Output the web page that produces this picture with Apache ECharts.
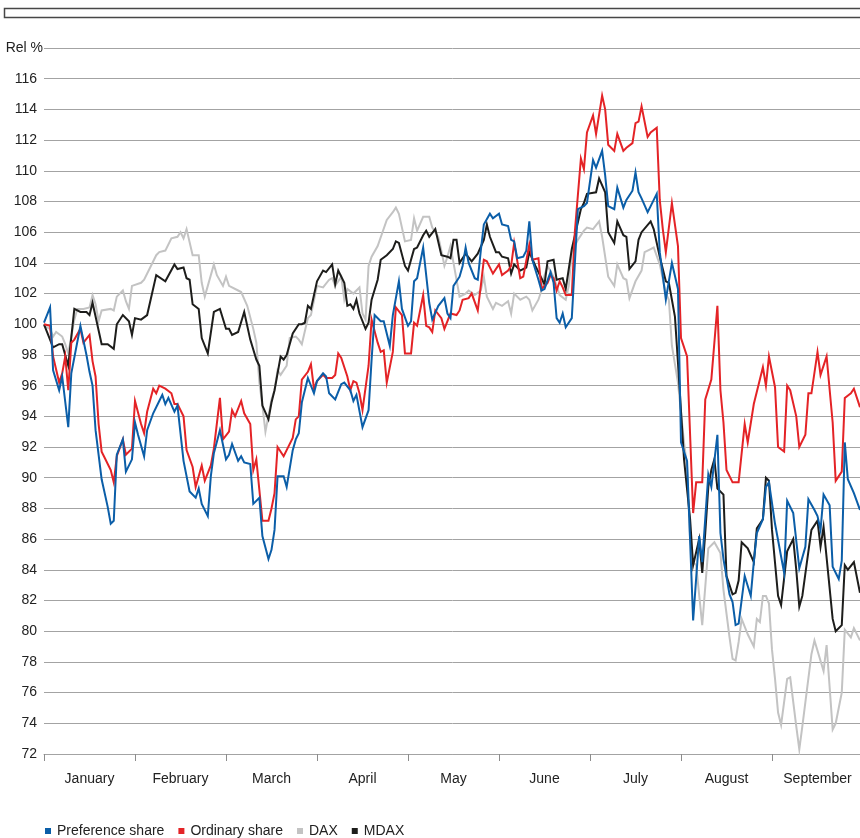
<!DOCTYPE html>
<html>
<head>
<meta charset="utf-8">
<script src="https://cdn.jsdelivr.net/npm/echarts@6/dist/echarts.min.js"></script>
<style>
html,body{margin:0;padding:0;background:#fff;}
#chart{width:860px;height:838px;}
</style>
</head>
<body>
<div id="chart"></div>
<script>
// x = day position (30 units per month), y = relative performance in %
const months = ['January','February','March','April','May','June','July','August','September'];
const yAxisTitle = 'Rel %';
const seriesNames = ['Preference share','Ordinary share','DAX','MDAX'];

const preference = [[0,100.1],[2,101.1],[3,97],[5,95.7],[6,96.6],[8,93.3],[9,96.8],[12,99.9],[14,98],[15,96.9],[16,96],[17,93.1],[19,89.9],[21,88.1],[22,87],[23,87.2],[24,91.5],[26,92.5],[27,90.4],[29,91.2],[30,93.6],[31,92.8],[33,91.4],[34,93.1],[36,94.2],[38,95],[39,95.4],[40,94.8],[41,95.2],[43,94.3],[44,94.7],[46,91.1],[48,89.1],[50,88.7],[51,89.3],[52,88.3],[54,87.5],[55,90.1],[56,91.6],[58,93.1],[60,91.2],[61,91.5],[62,92.2],[64,91.1],[65,91.4],[66,91],[68,90.9],[69,88.3],[71,88.7],[72,86.2],[74,84.7],[75,85.3],[76,86.6],[77,90.1],[79,90.1],[80,89.4],[82,91.8],[83,92.5],[84,92.9],[85,94.9],[87,96.5],[89,95.5],[90,96.3],[92,96.8],[93,96.6],[94,95.5],[96,95.1],[98,96.1],[99,96.2],[101,95.7],[102,95],[103,95.4],[105,93.3],[107,94.4],[108,97.7],[109,100.6],[111,100.2],[112,100.2],[114,98.6],[115,100.6],[117,102.8],[118,101],[120,99.9],[121,100.2],[122,102.8],[123,103],[125,105],[127,101.4],[128,100.3],[130,101.2],[132,101.7],[133,100.7],[134,100.4],[135,102.5],[137,103.1],[138,103.8],[139,105],[140,104],[142,103],[143,102.9],[144,104.8],[145,106.5],[147,107.2],[148,106.9],[150,107.2],[151,106.5],[153,106.4],[154,105.5],[155,105.4],[156,104.3],[158,104.4],[159,104.8],[160,106.7],[161,104.2],[163,102.9],[164,102.2],[165,102.3],[167,103.4],[168,102.7],[169,100.4],[170,100.1],[171,100.7],[172,99.8],[174,100.4],[176,107.5],[178,107.7],[179,107.9],[181,110.7],[182,110.2],[184,111.3],[185,109.7],[186,107.7],[188,107.5],[189,108.9],[191,107.6],[192,108.1],[194,108.7],[195,109.9],[196,108.6],[197,108.2],[199,107.3],[200,107.7],[202,108.5],[203,104.7],[205,101.6],[207,104],[209,102.3],[210,92.3],[212,91.1],[214,80.7],[216,86.2],[217,84.5],[219,90.2],[220,89.4],[222,92.8],[223,86.4],[224,84.7],[226,82.4],[227,81.9],[228,80.4],[229,80.5],[231,83.6],[233,82.3],[234,84.5],[235,86.4],[237,87.3],[238,89.4],[239,89.7],[241,87],[244,83.8],[245,88.5],[247,87.7],[249,84.1],[251,85.5],[252,88.6],[254,87.9],[255,87.5],[256,86.6],[257,88.9],[259,88.2],[260,84.2],[262,83.4],[263,84.6],[264,92.3],[265,89.9],[267,89],[269,87.9]];

const ordinary = [[0,100],[2,99.9],[3,97.9],[5,96.2],[6,96.8],[7,97.9],[8,95.7],[9,98.8],[10,99],[12,99.7],[13,98.8],[15,99.3],[16,97.6],[17,96.6],[18,93.5],[19,91.7],[20,91.3],[22,90.5],[23,89.7],[24,91.4],[26,92.5],[27,91.5],[29,91.9],[30,95],[32,93.5],[33,92.9],[34,94.3],[36,95.8],[37,95.5],[38,96],[40,95.8],[42,95.5],[43,94.8],[44,94.8],[46,94],[47,91.8],[49,90.7],[50,89.4],[52,90.8],[53,89.8],[55,90.8],[56,91.9],[58,95.2],[59,92.5],[61,93],[62,94.4],[63,94],[65,95],[66,94.2],[68,93.5],[69,90.5],[70,91.2],[72,87.2],[74,87.2],[75,88],[76,89],[77,92],[79,91.4],[80,91.8],[82,92.6],[83,93.8],[84,94],[85,96.4],[87,96.9],[88,97.4],[89,95.8],[90,96.3],[92,96.7],[93,96.5],[95,96.5],[96,96.7],[97,98.1],[98,97.8],[100,96.6],[101,95.7],[102,96.3],[103,96.2],[104,95.5],[105,94.4],[107,97.3],[108,100.3],[110,98.8],[111,98.2],[112,98.3],[113,96.2],[115,98.2],[116,101.1],[118,100.6],[119,98.1],[121,98.1],[122,100.1],[123,99.9],[125,101.9],[126,99.9],[127,99.8],[128,99.5],[129,100.9],[131,100.4],[132,99.7],[134,100.7],[136,100.6],[137,100.9],[138,101.6],[140,101.7],[141,102],[143,100.9],[144,102.5],[145,104.2],[146,104.1],[148,103.3],[150,103.9],[151,103.2],[153,103.5],[154,103.8],[155,105.3],[157,103],[158,103.1],[160,105.2],[161,104.2],[163,104.3],[164,102.3],[166,102.7],[167,103.2],[168,103],[169,102.2],[170,102.8],[171,102.4],[172,101.9],[174,101.9],[175,106],[177,110.8],[178,110.1],[179,112.5],[181,113.6],[182,112.4],[184,114.9],[185,114],[186,111.7],[188,111.3],[189,112.4],[191,111.3],[192,111.5],[194,111.8],[195,113.1],[196,113.2],[197,114.2],[199,112.2],[200,112.5],[202,112.8],[203,108.1],[204,106.2],[205,104.7],[207,107.9],[209,105.1],[210,99.1],[212,97.9],[214,87.7],[215,89.7],[217,89.7],[218,95.1],[220,96.4],[222,101.2],[223,95.7],[224,93.6],[225,90.5],[227,89.7],[229,89.7],[231,93.5],[232,92.3],[234,94.8],[237,97.2],[238,96],[239,97.9],[241,95.9],[242,92],[244,91.7],[245,96],[246,95.7],[248,94],[249,92],[251,92.8],[252,95.5],[253,95.5],[255,98.2],[256,96.7],[258,97.9],[260,93.6],[261,89.8],[263,90.4],[264,95.2],[266,95.5],[267,95.8],[269,94.6]];

const dax = [[0,99.9],[2,99.7],[3,99.2],[4,99.5],[6,99.2],[7,98.7],[8,98.1],[10,100.3],[11,101],[13,101],[15,101.1],[16,101.9],[17,101.3],[18,100.2],[19,100.9],[22,101],[23,100.9],[24,101.8],[26,102.2],[27,101.5],[28,101],[29,102.5],[32,102.7],[33,102.9],[35,103.7],[37,104.5],[38,104.7],[40,104.8],[42,105.6],[44,105.7],[45,106],[46,105.6],[47,106.2],[49,104.5],[51,104.5],[52,102.7],[53,101.8],[54,102.5],[56,103.9],[57,103.2],[59,102.5],[60,103.1],[61,102.5],[64,102.2],[65,102.1],[67,101.2],[69,99.7],[70,98.8],[71,96.2],[72,94.7],[73,93],[75,95.1],[76,95.7],[77,97],[78,96.7],[80,97.3],[81,99.1],[83,99.2],[84,99],[85,98.7],[87,100.4],[88,100.6],[90,102.5],[92,102.4],[94,102.9],[95,103],[96,102.5],[98,103.1],[99,101.6],[100,102.3],[102,102],[104,102.4],[105,100.7],[106,100.3],[107,103.8],[108,104.4],[110,105.1],[113,106.8],[115,107.3],[116,107.6],[117,107.2],[119,105.4],[121,105.5],[122,106.9],[123,106.1],[125,107],[127,107],[128,106.3],[130,105.7],[131,104.8],[132,103.8],[133,104.4],[134,105.1],[135,104],[136,102.9],[137,101.8],[139,102],[140,102.2],[142,101.9],[144,102.2],[145,103.1],[146,101.8],[148,101],[149,101.4],[151,101.2],[153,101.5],[154,100.7],[155,102],[157,101.6],[159,101.8],[160,101.6],[161,100.9],[163,101.6],[164,102.2],[165,103.2],[166,103.8],[168,103.1],[169,102.5],[170,101.9],[172,101.6],[173,102.5],[174,104.7],[176,105.5],[178,106.1],[179,106.3],[181,106.2],[183,106.7],[184,105.7],[186,103.1],[188,102.5],[189,103.9],[191,103],[192,102.9],[193,101.7],[195,102.8],[197,103.5],[198,104.7],[200,104.9],[201,105],[203,103.9],[205,102],[206,101.6],[207,98.6],[209,96.2],[211,92.3],[212,90.7],[213,86],[214,84.5],[215,84.3],[217,80.4],[219,85.4],[221,85.8],[223,85.1],[224,82.7],[226,79.6],[227,78.2],[228,78.1],[229,79.3],[230,80.8],[232,79.8],[234,79],[235,80.8],[236,80.6],[237,82.3],[238,82.3],[239,81.8],[240,78.8],[241,76.9],[242,74.7],[243,73.9],[245,76.9],[246,77],[248,73.8],[249,72.3],[250,73.8],[253,78.5],[254,79.4],[257,77.4],[258,79.1],[260,73.6],[261,74],[263,76],[264,80.1],[266,79.6],[267,80.2],[269,79.4]];

const mdax = [[0,100],[3,98.5],[5,98.7],[6,98.7],[8,97.3],[10,101],[12,100.8],[14,100.8],[15,100.6],[16,101.4],[17,100.5],[19,98.7],[21,98.7],[23,98.4],[24,100],[26,100.6],[28,100.2],[29,99.3],[30,100.4],[32,100.3],[34,100.6],[37,103.2],[40,102.8],[43,103.9],[44,103.6],[46,103.7],[47,103],[48,102.9],[49,101.3],[51,101],[52,99.1],[54,98.1],[56,100.8],[58,101],[60,99.7],[61,99.7],[62,99.3],[64,99.5],[66,100.8],[68,99],[70,97.7],[71,97.3],[72,94.7],[74,93.8],[75,94.9],[76,95.7],[78,97.9],[79,97.7],[80,98],[82,99.4],[84,100],[85,100],[86,100.1],[87,101.2],[88,101],[90,102.8],[92,103.5],[93,103.4],[95,103.9],[96,102.6],[97,103.5],[99,102.7],[100,101.2],[101,101.3],[102,101],[103,101.6],[104,100.7],[106,99.7],[107,100.1],[108,101.6],[110,102.9],[111,104.2],[113,104.5],[115,104.9],[116,105.4],[117,105.3],[119,103.8],[120,103.5],[122,104.9],[123,105],[125,105.8],[126,106.1],[127,105.7],[129,106.2],[131,104.5],[133,104.4],[134,104.3],[135,105.5],[136,105.5],[137,104],[139,104.6],[141,104.1],[143,104.6],[145,105.5],[146,106.5],[147,105.7],[149,104.7],[150,104.7],[151,104.4],[153,104.3],[154,103.3],[155,103.9],[157,103.5],[159,103.7],[160,104.7],[162,103.8],[164,103],[165,102.6],[166,104.1],[168,104.2],[169,102.9],[171,103],[172,102.3],[174,104.9],[177,107.5],[178,107.9],[179,108.5],[182,108.6],[183,109.5],[185,108.6],[186,106],[188,105.3],[189,106.7],[191,105.8],[192,105.7],[193,103.6],[195,104.1],[196,105.5],[197,106],[200,106.7],[201,106.2],[203,104.4],[205,102.8],[206,102.7],[207,101.6],[208,100.5],[209,97.5],[211,91.2],[213,87.3],[214,84.3],[216,86],[217,83.8],[218,86.4],[219,89.4],[220,90.5],[221,91.2],[222,89.3],[224,88.9],[225,83.6],[227,82.4],[228,82.5],[229,83.3],[230,85.8],[232,85.4],[234,84.5],[235,86.7],[237,87.3],[238,90],[239,89.8],[240,86.6],[242,82.3],[243,81.7],[245,85.2],[247,86],[248,84],[249,81.6],[250,82.3],[252,85.2],[253,86.6],[255,87.2],[256,85.5],[257,86.8],[260,80.8],[261,80],[263,80.4],[264,84.3],[265,84],[267,84.5],[269,82.5]];

const colors = {pref:'#0b5ea8', ord:'#e42326', dax:'#c3c3c3', mdax:'#1d1d1b'};
const FONT = 'Liberation Sans, Arial, sans-serif';

const chart = echarts.init(document.getElementById('chart'), null, {renderer:'canvas'});

function lineSeries(name, data, color, z){
  return {name:name, type:'line', data:data, xAxisIndex:0, yAxisIndex:0,
    symbol:'none', showSymbol:false, smooth:false, z:z,
    lineStyle:{color:color, width:2, join:'miter'}, itemStyle:{color:color}};
}

chart.setOption({
  animation:false,
  backgroundColor:'#ffffff',
  grid:{left:44, right:-3, top:48, bottom:84, containLabel:false, outerBoundsMode:'none'},
  graphic:[
    {type:'rect', shape:{x:4.5, y:8.5, width:880, height:9},
      style:{fill:'#ffffff', stroke:'#474747', lineWidth:1.5}, silent:true},
    {type:'text', right:817, top:41,
      style:{text:yAxisTitle, font:'14px ' + FONT, fill:'#222', textAlign:'right'}, silent:true}
  ],
  legend:{
    left:45, top:823, padding:0, itemWidth:6, itemHeight:6, itemGap:14, icon:'rect',
    data:seriesNames,
    textStyle:{fontFamily:FONT, fontSize:14, color:'#222', lineHeight:16, padding:[0,0,0,1]}
  },
  xAxis:[
    {type:'value', min:0, max:270, show:false, splitLine:{show:false}},
    {type:'category', data:months, position:'bottom', boundaryGap:true,
      axisLine:{show:true, lineStyle:{color:'#a3a3a3', width:1}},
      axisTick:{show:true, length:7, alignWithLabel:false, lineStyle:{color:'#8c8c8c', width:1}},
      axisLabel:{fontFamily:FONT, fontSize:14, color:'#222', margin:18},
      splitLine:{show:false}}
  ],
  yAxis:{type:'value', min:72, max:118, interval:2,
    axisLine:{show:false}, axisTick:{show:false},
    axisLabel:{fontFamily:FONT, fontSize:14, color:'#222', margin:7,
      formatter:function(v){ return v === 118 ? '' : String(v); }},
    splitLine:{show:true, lineStyle:{color:'#a3a3a3', width:1}}
  },
  series:[
    lineSeries('DAX', dax, colors.dax, 2),
    lineSeries('MDAX', mdax, colors.mdax, 3),
    lineSeries('Ordinary share', ordinary, colors.ord, 4),
    lineSeries('Preference share', preference, colors.pref, 5),
    {type:'line', xAxisIndex:1, yAxisIndex:0, data:[], silent:true}
  ]
});
</script>
</body>
</html>
